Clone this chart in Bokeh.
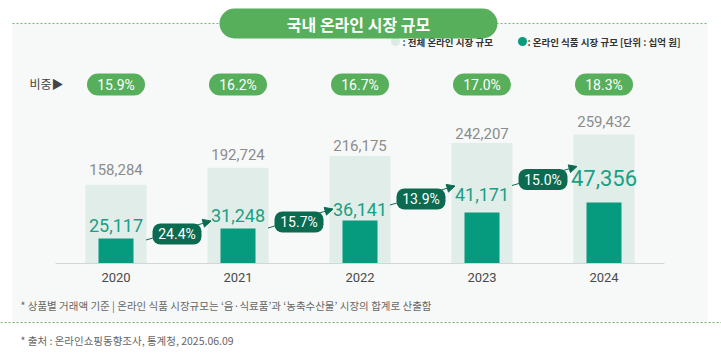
from bokeh.plotting import figure
from bokeh.models import Range1d, BoxAnnotation, Label, Arrow, NormalHead, ColumnDataSource
from bokeh.core.properties import value
from bokeh.embed import file_html
from bokeh.resources import INLINE

# ---------------- data ----------------
years = [2020, 2021, 2022, 2023, 2024]
year_labels = ["2020", "2021", "2022", "2023", "2024"]
total_market = [158284, 192724, 216175, 242207, 259432]   # 전체 온라인 시장 규모 (십억 원)
food_market = [25117, 31248, 36141, 41171, 47356]          # 온라인 식품 시장 규모 (십억 원)
food_share = ["15.9%", "16.2%", "16.7%", "17.0%", "18.3%"]  # 비중
food_growth = ["24.4%", "15.7%", "13.9%", "15.0%"]          # 전년 대비 증가율

title_text = "국내 온라인 시장 규모"
legend_total = ": 전체 온라인 시장 규모"
legend_food = ": 온라인 식품 시장 규모  [단위 : 십억 원]"
share_caption = "비중▶"
note_text = "* 상품별 거래액 기준 | 온라인 식품 시장규모는 ‘음·식료품’과 ‘농축수산물’ 시장의 합계로 산출함"
source_text = "* 출처 : 온라인쇼핑동향조사, 통계청, 2025.06.09"

# ---------------- layout (pixels) ----------------
W, H = 721, 355
M = 0
STEP = 122.0          # px between years
X_FIRST = 115.5       # px of first year centre
BASE = 263.0          # px of baseline
UPP = 2012.0          # total-market units per px
F0 = 9629.0           # food axis value at baseline
FUPP = 618.0          # food units per px
growth_lift_px = [29.5, 41.5, 64.5, 84.0]
total_label_gap = [-15, -13, -11, -10, -13]
food_label_gap = [-13, -13, -11, -18, -24]

GREEN = "#57ae5b"
DARK = "#0b6b51"
TEAL = "#069b7e"
TEAL_TXT = "#1a9f84"
LIGHT = "#e1ede8"
PANEL = "#f7f9f9"
KR = "Noto Sans CJK KR"
NUM = "Roboto"


def sx(ix):
    return years[0] + (ix - X_FIRST) / STEP


def sy(iy):
    return (BASE - iy) * UPP


def dx(px):
    return px / STEP


p = figure(width=W, height=H,
           x_range=Range1d(sx(M), sx(M + W)),
           y_range=Range1d(sy(M + H), sy(M)),
           x_axis_type=None, y_axis_type=None,
           min_border=0, output_backend="svg", toolbar_location=None,
           outline_line_color=None, background_fill_color="white",
           border_fill_color="white")
p.extra_y_ranges = {"food": Range1d(F0 - (M + H - BASE) * FUPP, F0 + (BASE - M) * FUPP)}
p.grid.visible = False

# panel + dashed rules
p.quad(left=sx(12), right=sx(707), top=sy(23), bottom=sy(322),
       fill_color=PANEL, line_color=None)
p.segment(x0=[sx(12), sx(0)], y0=[sy(23), sy(322)], x1=[sx(707), sx(W)], y1=[sy(23), sy(322)],
          line_color="#6dbf70", line_dash="2 2", line_width=1)

# bars
p.vbar(x=years, top=total_market, bottom=0, width=dx(61), fill_color=LIGHT, line_color=None)
p.vbar(x=years, top=food_market, bottom=F0, width=dx(35), y_range_name="food",
       fill_color=TEAL, line_color=None)

# baseline
p.segment(x0=[sx(55)], y0=[0], x1=[sx(664)], y1=[0], line_color="#d3d6d6", line_width=1)

# year labels
p.text(x=years, y=[sy(277)] * len(years), text=year_labels, text_align="center",
       text_baseline="middle", text_font=value(NUM), text_font_size="13px", text_color="#4a4a4a")

# total labels
tsrc = ColumnDataSource(dict(x=years, y=total_market, t=[f"{v:,}" for v in total_market],
                             off=total_label_gap))
p.text(x="x", y="y", text="t", y_offset="off", source=tsrc,
       text_align="center", text_baseline="middle", text_font=value(NUM),
       text_font_size="15px", text_color="#8c8c8c")

# food labels
fsrc = ColumnDataSource(dict(
    x=years, y=food_market, t=[f"{v:,}" for v in food_market],
    size=["18px"] * (len(years) - 1) + ["22px"],
    off=food_label_gap,
))
p.text(x="x", y="y", text="t", y_offset="off", text_font_size="size", source=fsrc,
       y_range_name="food", text_align="center", text_baseline="middle",
       text_font=value(NUM), text_color=TEAL_TXT)

# legend
p.scatter(x=[sx(395)], y=[sy(41)], size=9, marker="circle", fill_color="#dde9e4", line_color=None)
p.scatter(x=[sx(522)], y=[sy(41)], size=9, marker="circle", fill_color=TEAL, line_color=None)
p.text(x=[sx(402), sx(527)], y=[sy(41), sy(41)], text=[legend_total, legend_food],
       text_align="left", text_baseline="middle", text_font=value(KR), text_font_size="9.5px",
       text_font_style="bold", text_color="#333333")

# share caption
p.text(x=[sx(29)], y=[sy(83)], text=[share_caption], text_align="left", text_baseline="middle",
       text_font=value(KR), text_font_size="12px", text_color="#444444")

# footnotes
p.text(x=[sx(20), sx(20)], y=[sy(305), sy(340)], text=[note_text, source_text],
       text_align="left", text_baseline="middle", text_font=value(KR),
       text_font_size="10.5px", text_color="#666666")

# title pill
p.add_layout(BoxAnnotation(left=sx(219), right=sx(497), top=sy(8), bottom=sy(38),
                           border_radius=15, fill_color=GREEN, fill_alpha=1, line_color=None))
p.add_layout(Label(x=sx(358), y=sy(23), text=title_text, text_align="center",
                   text_baseline="middle", text_font=KR, text_font_size="16px",
                   text_font_style="bold", text_color="white"))

# share pills
for yr, s in zip(years, food_share):
    p.add_layout(BoxAnnotation(left=yr - dx(29), right=yr + dx(29), top=sy(73), bottom=sy(95),
                               border_radius=11, fill_color=GREEN, fill_alpha=1, line_color=None))
    p.add_layout(Label(x=yr, y=sy(84), text=s, text_align="center", text_baseline="middle",
                       text_font=NUM, text_font_size="14px", text_color="white"))

# growth arrows + badges
for i, g in enumerate(food_growth):
    cy = BASE - growth_lift_px[i]
    mid = years[i] + 0.5
    p.add_layout(Arrow(x_start=years[i] + dx(30), y_start=sy(cy + 6),
                       x_end=years[i + 1] - dx(27), y_end=sy(cy - 13),
                       line_color=DARK, line_width=1,
                       end=NormalHead(size=8, fill_color=DARK, line_color=DARK)))
    p.add_layout(BoxAnnotation(left=mid - dx(24.5), right=mid + dx(24.5), top=sy(cy - 10.5),
                               bottom=sy(cy + 10.5), border_radius=8, fill_color=DARK,
                               fill_alpha=1, line_color=None))
    p.add_layout(Label(x=mid, y=sy(cy), text=g, text_align="center", text_baseline="middle",
                       text_font=NUM, text_font_size="14px", text_color="white"))

open("out.html", "w").write(file_html(p, INLINE))
